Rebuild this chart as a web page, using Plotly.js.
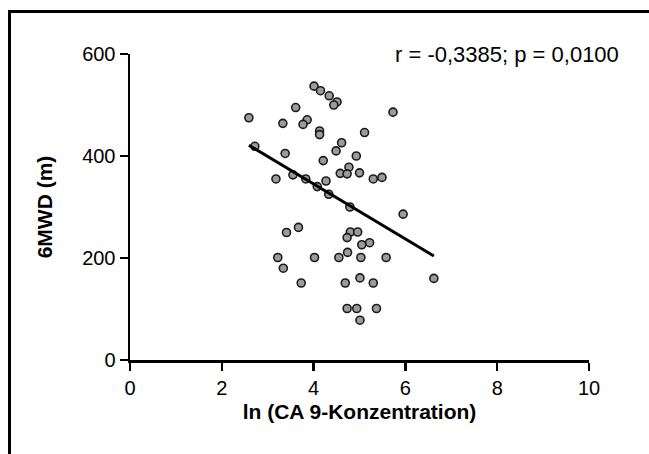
<!DOCTYPE html>
<html>
<head>
<meta charset="utf-8">
<script src="https://cdn.plot.ly/plotly-3.0.1.min.js"></script>
<style>html,body{margin:0;padding:0;background:#fff;}#chart{width:649px;height:454px;}</style>
</head>
<body>
<div id="chart"></div>
<script>
// ln (CA 9-Konzentration) values
const lnCA9 = [4.01,4.15,4.34,4.51,4.44,3.61,2.59,5.73,3.33,3.86,3.77,4.13,4.13,5.11,4.61,4.49,2.72,3.38,4.93,4.21,
  4.77,4.58,4.73,5.00,3.18,3.55,3.83,4.08,4.27,5.30,5.49,4.33,4.79,5.95,3.41,3.67,4.80,4.96,4.73,5.05,
  5.22,4.74,3.22,4.02,4.55,5.03,5.58,3.34,3.73,4.69,5.01,5.30,6.62,4.73,4.94,5.37,5.01];
// 6MWD (m) values
const mwd6 = [537,528,518,506,500,495,475,486,464,471,462,449,442,446,426,410,419,405,400,391,
  378,366,365,367,355,363,355,340,351,355,358,325,300,286,250,260,251,251,240,226,
  230,211,201,201,201,201,201,180,151,151,161,151,160,101,101,101,78];
// regression line
const fitX = [2.59, 6.62];
const fitY = [421, 204];
const xTicks = [0,2,4,6,8,10];
const yTicks = [0,200,400,600];
const statsText = "r = -0,3385; p = 0,0100";

const font = "Liberation Sans, Arial, Helvetica, sans-serif";

const traces = [
  {x: lnCA9, y: mwd6, type: 'scatter', mode: 'markers', cliponaxis: false,
   marker: {size: 8, color: '#9b9b9b', line: {color: '#1a1a1a', width: 1.6}}, hoverinfo: 'x+y'},
  {x: fitX, y: fitY, type: 'scatter', mode: 'lines', line: {color: '#000', width: 3}}
];

const layout = {
  width: 649, height: 454,
  margin: {l: 130, r: 60, t: 54, b: 94},
  paper_bgcolor: '#fff', plot_bgcolor: '#fff',
  showlegend: false,
  font: {family: font, color: '#000', size: 16},
  xaxis: {
    range: [0, 10], tickvals: xTicks, ticktext: xTicks.map(String),
    showgrid: false, zeroline: false, showline: true, linecolor: '#000', linewidth: 2.5,
    ticks: 'outside', ticklen: 8, tickwidth: 2.5, tickcolor: '#000',
    tickfont: {family: font, size: 20, color: '#000'},
    title: {text: '<b>ln (CA 9-Konzentration)</b>', font: {family: font, size: 21, color: '#000'}, standoff: 7}
  },
  yaxis: {
    range: [0, 600], tickvals: yTicks, ticktext: yTicks.map(String),
    showgrid: false, zeroline: false, showline: true, linecolor: '#000', linewidth: 2.5,
    ticks: 'outside', ticklen: 8, tickwidth: 2.5, tickcolor: '#000',
    tickfont: {family: font, size: 20, color: '#000'},
    title: {text: '<b>6MWD (m)</b>', font: {family: font, size: 21, color: '#000'}, standoff: 24}
  },
  annotations: [{
    text: statsText, xref: 'paper', yref: 'paper', x: 1.07, y: 1.0, xanchor: 'right', yanchor: 'middle',
    showarrow: false, font: {family: font, size: 22, color: '#000'}
  }],
  shapes: [{
    type: 'rect', xref: 'paper', yref: 'paper',
    x0: (9.5 - 130) / 459, x1: (700 - 130) / 459,
    y0: (360 - 500) / 306, y1: (360 - 11.5) / 306,
    line: {color: '#000', width: 3}, fillcolor: 'rgba(0,0,0,0)', layer: 'below'
  }]
};

Plotly.newPlot('chart', traces, layout, {displayModeBar: false, staticPlot: true});
</script>
</body>
</html>
